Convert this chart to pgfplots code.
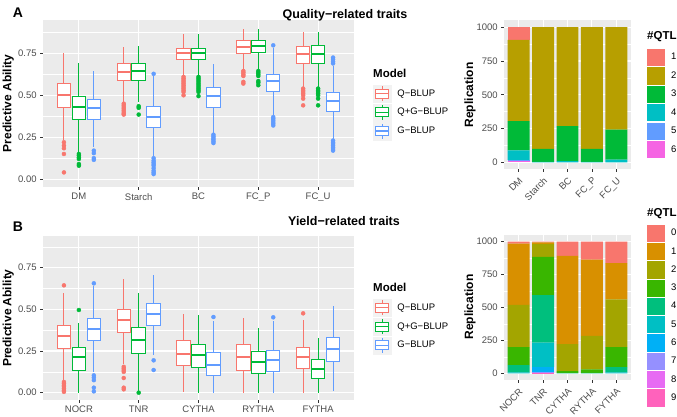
\documentclass[border=0pt]{standalone}
\usepackage{fontspec}
\setmainfont{Liberation Sans}
\usepackage{pgfplots}
\usepackage{pgfplotstable}
\pgfplotsset{compat=1.18}
\usepgfplotslibrary{statistics}

\definecolor{qcol}{HTML}{F8766D}
\definecolor{qgcol}{HTML}{00BA38}
\definecolor{gcol}{HTML}{619CFF}
\definecolor{bggray}{HTML}{EBEBEB}
\definecolor{keygray}{HTML}{F2F2F2}
\definecolor{tickgray}{HTML}{4D4D4D}
\definecolor{tickmark}{HTML}{333333}
\definecolor{a1}{HTML}{F8766D}
\definecolor{a2}{HTML}{B79F00}
\definecolor{a3}{HTML}{00BA38}
\definecolor{a4}{HTML}{00BFC4}
\definecolor{a5}{HTML}{619CFF}
\definecolor{a6}{HTML}{F564E3}
\definecolor{b0}{HTML}{F8766D}
\definecolor{b1}{HTML}{D89000}
\definecolor{b2}{HTML}{A3A500}
\definecolor{b3}{HTML}{39B600}
\definecolor{b4}{HTML}{00BF7D}
\definecolor{b5}{HTML}{00BFC4}
\definecolor{b6}{HTML}{00B0F6}
\definecolor{b7}{HTML}{9590FF}
\definecolor{b8}{HTML}{E76BF3}
\definecolor{b9}{HTML}{FF62BC}

% quality traits: rows DM(Q,Q+G,G), Starch, BC, FC_P, FC_U
\pgfplotstableread{
lw lq med uq uw
0.235 0.426 0.504 0.570 0.750
0.160 0.356 0.428 0.494 0.690
0.190 0.356 0.422 0.476 0.644
0.460 0.588 0.640 0.688 0.790
0.460 0.590 0.644 0.690 0.794
0.140 0.308 0.370 0.434 0.615
0.620 0.714 0.754 0.782 0.866
0.620 0.714 0.754 0.782 0.866
0.275 0.430 0.494 0.544 0.684
0.655 0.750 0.790 0.824 0.894
0.655 0.754 0.794 0.826 0.894
0.380 0.520 0.584 0.626 0.780
0.550 0.690 0.746 0.790 0.878
0.550 0.690 0.748 0.794 0.878
0.240 0.404 0.464 0.516 0.674
}\boxA

% yield traits: rows NOCR, TNR, CYTHA, RYTHA, FYTHA
\pgfplotstableread{
lw lq med uq uw
0.070 0.266 0.340 0.404 0.600
0.000 0.136 0.212 0.272 0.416
0.124 0.312 0.382 0.448 0.640
0.170 0.364 0.438 0.502 0.684
0.010 0.236 0.318 0.390 0.596
0.224 0.404 0.472 0.536 0.706
0.004 0.166 0.234 0.312 0.470
0.000 0.154 0.224 0.292 0.464
0.000 0.104 0.168 0.240 0.430
0.000 0.132 0.216 0.290 0.450
0.000 0.114 0.186 0.246 0.386
0.000 0.128 0.196 0.254 0.428
0.000 0.146 0.214 0.274 0.434
0.000 0.088 0.144 0.198 0.328
0.010 0.188 0.264 0.332 0.520
}\boxB

\newcommand{\bxt}[4]{%
  \pgfplotstablegetelem{#2}{lw}\of#1\edef\vlw{\pgfplotsretval}%
  \pgfplotstablegetelem{#2}{lq}\of#1\edef\vlq{\pgfplotsretval}%
  \pgfplotstablegetelem{#2}{med}\of#1\edef\vmed{\pgfplotsretval}%
  \pgfplotstablegetelem{#2}{uq}\of#1\edef\vuq{\pgfplotsretval}%
  \pgfplotstablegetelem{#2}{uw}\of#1\edef\vuw{\pgfplotsretval}%
  \edef\tmpbx{\noexpand\addplot[forget plot, draw=#4, line width=1pt,
    boxplot/draw direction=y,
    boxplot prepared={draw position=#3, lower whisker=\vlw, lower quartile=\vlq,
    median=\vmed, upper quartile=\vuq, upper whisker=\vuw}] coordinates {};}%
  \tmpbx}

\pgfplotsset{
 ggbase/.style={
   scale only axis,
   axis background/.style={fill=bggray},
   axis line style={draw=none},
   xmajorgrids=true, ymajorgrids=true, yminorgrids=true,
   major grid style={white, line width=1.1pt},
   minor grid style={white, line width=0.55pt},
   tick align=outside, tick pos=left,
   major tick length=2.8pt, minor tick length=0pt,
   tick style={draw=tickmark, line width=0.6pt},
   tick label style={font=\fontsize{9.5}{11}\selectfont, text=tickgray},
   xmin=0.4, xmax=5.6, xtick={1,2,3,4,5},
   legend cell align=left,
   legend style={draw=none, fill=none, inner sep=0pt, anchor=north west,
     nodes={inner sep=0pt, font=\fontsize{9.5}{11}\selectfont},
     row sep=1.15pt,
     /tikz/every odd column/.append style={column sep=6.5pt}},
 },
 boxax/.style={ggbase, width=311pt, ymin=-0.047, ymax=0.949,
   ytick={0,0.25,0.5,0.75}, yticklabels={0.00,0.25,0.50,0.75},
   minor ytick={0.125,0.375,0.625,0.875},
   boxplot/draw direction=y,
   boxplot/box extend=0.225, boxplot/whisker extend=0,
   boxplot/every box/.style={fill=white},
   boxplot/every median/.style={line width=1.9pt}},
 barax/.style={ggbase, width=127pt, ybar stacked, bar width=0.9,
   ymin=-50, ymax=1050, ytick={0,250,500,750,1000},
   yticklabels={0,250,500,750,1000},
   minor ytick={125,375,625,875},
   xticklabel style={rotate=45, anchor=north east}, reverse legend},
 boxkey/.style={legend image code/.code={
   \fill[keygray] (0pt,-8.65pt) rectangle (17.3pt,8.65pt);
   \draw[line width=0.9pt, fill=white] (2.2pt,-4.5pt) rectangle (15.1pt,4.5pt);
   \draw[line width=0.9pt] (8.65pt,4.5pt) -- (8.65pt,7.6pt) (8.65pt,-4.5pt) -- (8.65pt,-7.6pt);
   \draw[line width=1.6pt] (2.2pt,0pt) -- (15.1pt,0pt);}},
 barkey/.style={legend image code/.code={
   \fill (0pt,-8.65pt) rectangle (17.3pt,8.65pt);}},
 outl/.style={forget plot, only marks, mark=*, mark size=2pt, mark options={draw=none}},
}

\begin{document}
\begin{tikzpicture}
\path[use as bounding box] (0,0) rectangle (677pt,416pt);

% ---------------- A: quality traits boxplots
\begin{axis}[boxax, at={(43pt,229pt)}, anchor=south west, height=167pt,
  xticklabels={DM,Starch,BC,FC\_P,FC\_U},
  legend style={at={(1.0611,0.614)}}]
\bxt{\boxA}{0}{0.75}{qcol}
\bxt{\boxA}{1}{1.00}{qgcol}
\bxt{\boxA}{2}{1.25}{gcol}
\bxt{\boxA}{3}{1.75}{qcol}
\bxt{\boxA}{4}{2.00}{qgcol}
\bxt{\boxA}{5}{2.25}{gcol}
\bxt{\boxA}{6}{2.75}{qcol}
\bxt{\boxA}{7}{3.00}{qgcol}
\bxt{\boxA}{8}{3.25}{gcol}
\bxt{\boxA}{9}{3.75}{qcol}
\bxt{\boxA}{10}{4.00}{qgcol}
\bxt{\boxA}{11}{4.25}{gcol}
\bxt{\boxA}{12}{4.75}{qcol}
\bxt{\boxA}{13}{5.00}{qgcol}
\bxt{\boxA}{14}{5.25}{gcol}
\addplot[outl, qcol, mark options={fill=qcol}] coordinates {
(0.75,0.22)(0.75,0.20)(0.75,0.184)(0.75,0.15)(0.75,0.04)
(1.75,0.45)(1.75,0.44)(1.75,0.43)(1.75,0.42)(1.75,0.41)(1.75,0.40)(1.75,0.39)(1.75,0.385)
(2.75,0.61)(2.75,0.60)(2.75,0.59)(2.75,0.58)(2.75,0.57)(2.75,0.56)(2.75,0.55)(2.75,0.54)(2.75,0.53)(2.75,0.52)(2.75,0.50)
(3.75,0.645)(3.75,0.635)(3.75,0.625)(3.75,0.615)(3.75,0.58)(3.75,0.57)
(4.75,0.54)(4.75,0.53)(4.75,0.52)(4.75,0.51)(4.75,0.50)(4.75,0.48)(4.75,0.44)};
\addplot[outl, qgcol, mark options={fill=qgcol}] coordinates {
(1,0.15)(1,0.14)(1,0.13)(1,0.12)(1,0.09)(1,0.08)
(2,0.435)(2,0.425)(2,0.385)
(3,0.61)(3,0.60)(3,0.59)(3,0.58)(3,0.57)(3,0.56)(3,0.55)(3,0.54)(3,0.53)(3,0.52)(3,0.495)
(4,0.645)(4,0.635)(4,0.625)(4,0.615)(4,0.585)(4,0.575)(4,0.56)
(5,0.54)(5,0.53)(5,0.52)(5,0.51)(5,0.50)(5,0.48)(5,0.44)};
\addplot[outl, gcol, mark options={fill=gcol}] coordinates {
(1.25,0.17)(1.25,0.155)(1.25,0.125)(1.25,0.115)
(2.25,0.628)(2.25,0.125)(2.25,0.11)(2.25,0.10)(2.25,0.09)(2.25,0.08)(2.25,0.065)(2.25,0.05)(2.25,0.04)(2.25,0.03)
(3.25,0.265)(3.25,0.255)(3.25,0.245)(3.25,0.235)(3.25,0.225)(3.25,0.215)
(4.25,0.798)(4.25,0.37)(4.25,0.36)(4.25,0.35)(4.25,0.34)(4.25,0.33)(4.25,0.32)
(5.25,0.725)(5.25,0.715)(5.25,0.70)(5.25,0.69)(5.25,0.23)(5.25,0.22)(5.25,0.21)(5.25,0.20)(5.25,0.19)(5.25,0.18)(5.25,0.17)};
\addlegendimage{boxkey, draw=qcol}\addlegendentry{Q−BLUP}
\addlegendimage{boxkey, draw=qgcol}\addlegendentry{Q+G−BLUP}
\addlegendimage{boxkey, draw=gcol}\addlegendentry{G−BLUP}
\end{axis}

% ---------------- A: QTL bars
\begin{axis}[barax, at={(504pt,247pt)}, anchor=south west, height=148.5pt,
  xticklabels={DM,Starch,BC,FC\_P,FC\_U},
  legend style={at={(1.126,0.811)}}]
\addplot[fill=a6, draw=none, barkey] coordinates {(1,8) (2,0) (3,0) (4,0) (5,0)}; \addlegendentry{6}
\addplot[fill=a5, draw=none, barkey] coordinates {(1,10) (2,0) (3,0) (4,0) (5,0)}; \addlegendentry{5}
\addplot[fill=a4, draw=none, barkey] coordinates {(1,70) (2,3) (3,8) (4,2) (5,20)}; \addlegendentry{4}
\addplot[fill=a3, draw=none, barkey] coordinates {(1,216) (2,97) (3,260) (4,98) (5,222)}; \addlegendentry{3}
\addplot[fill=a2, draw=none, barkey] coordinates {(1,603) (2,900) (3,732) (4,900) (5,758)}; \addlegendentry{2}
\addplot[fill=a1, draw=none, barkey] coordinates {(1,93) (2,0) (3,0) (4,0) (5,0)}; \addlegendentry{1}
\end{axis}

% ---------------- B: yield traits boxplots
\begin{axis}[boxax, at={(43pt,16pt)}, anchor=south west, height=164pt,
  ymin=-0.044, ymax=0.94,
  xticklabels={NOCR,TNR,CYTHA,RYTHA,FYTHA},
  legend style={at={(1.0611,0.618)}}]
\bxt{\boxB}{0}{0.75}{qcol}
\bxt{\boxB}{1}{1.00}{qgcol}
\bxt{\boxB}{2}{1.25}{gcol}
\bxt{\boxB}{3}{1.75}{qcol}
\bxt{\boxB}{4}{2.00}{qgcol}
\bxt{\boxB}{5}{2.25}{gcol}
\bxt{\boxB}{6}{2.75}{qcol}
\bxt{\boxB}{7}{3.00}{qgcol}
\bxt{\boxB}{8}{3.25}{gcol}
\bxt{\boxB}{9}{3.75}{qcol}
\bxt{\boxB}{10}{4.00}{qgcol}
\bxt{\boxB}{11}{4.25}{gcol}
\bxt{\boxB}{12}{4.75}{qcol}
\bxt{\boxB}{13}{5.00}{qgcol}
\bxt{\boxB}{14}{5.25}{gcol}
\addplot[outl, qcol, mark options={fill=qcol}] coordinates {
(0.75,0.644)(0.75,0.064)(0.75,0.055)(0.75,0.045)(0.75,0.035)(0.75,0.025)(0.75,0.015)(0.75,0.005)
(1.75,0.155)(1.75,0.145)(1.75,0.135)(1.75,0.125)(1.75,0.088)(1.75,0.03)(1.75,0.02)
(4.75,0.476)};
\addplot[outl, qgcol, mark options={fill=qgcol}] coordinates {(1,0.496)(2,0.0)};
\addplot[outl, gcol, mark options={fill=gcol}] coordinates {
(1.25,0.656)(1.25,0.104)(1.25,0.09)(1.25,0.075)(1.25,0.03)(1.25,0.008)
(2.25,0.194)(2.25,0.136)(3.25,0.454)(4.25,0.452)};
\addlegendimage{boxkey, draw=qcol}\addlegendentry{Q−BLUP}
\addlegendimage{boxkey, draw=qgcol}\addlegendentry{Q+G−BLUP}
\addlegendimage{boxkey, draw=gcol}\addlegendentry{G−BLUP}
\end{axis}

% ---------------- B: QTL bars
\begin{axis}[barax, at={(504pt,36pt)}, anchor=south west, height=145pt,
  xticklabels={NOCR,TNR,CYTHA,RYTHA,FYTHA},
  legend style={at={(1.126,1.073)}, row sep=1.0pt}]
\addplot[fill=b9, draw=none, barkey] coordinates {(1,0) (2,2) (3,0) (4,0) (5,0)}; \addlegendentry{9}
\addplot[fill=b8, draw=none, barkey] coordinates {(1,0) (2,3) (3,0) (4,0) (5,0)}; \addlegendentry{8}
\addplot[fill=b7, draw=none, barkey] coordinates {(1,0) (2,5) (3,0) (4,0) (5,0)}; \addlegendentry{7}
\addplot[fill=b6, draw=none, barkey] coordinates {(1,0) (2,38) (3,0) (4,0) (5,0)}; \addlegendentry{6}
\addplot[fill=b5, draw=none, barkey] coordinates {(1,8) (2,186) (3,0) (4,0) (5,8)}; \addlegendentry{5}
\addplot[fill=b4, draw=none, barkey] coordinates {(1,55) (2,360) (3,5) (4,5) (5,40)}; \addlegendentry{4}
\addplot[fill=b3, draw=none, barkey] coordinates {(1,136) (2,290) (3,12) (4,25) (5,151)}; \addlegendentry{3}
\addplot[fill=b2, draw=none, barkey] coordinates {(1,320) (2,96) (3,205) (4,255) (5,363)}; \addlegendentry{2}
\addplot[fill=b1, draw=none, barkey] coordinates {(1,466) (2,15) (3,670) (4,579) (5,274)}; \addlegendentry{1}
\addplot[fill=b0, draw=none, barkey] coordinates {(1,15) (2,5) (3,108) (4,136) (5,164)}; \addlegendentry{0}
\end{axis}

% ---------------- texts
\node[font=\fontsize{14}{16}\selectfont\bfseries] at (18pt,403pt) {A};
\node[font=\fontsize{14}{16}\selectfont\bfseries] at (18pt,189pt) {B};
\node[font=\fontsize{12.5}{14}\selectfont\bfseries] at (345pt,401pt) {Quality−related traits};
\node[font=\fontsize{12.5}{14}\selectfont\bfseries] at (344pt,195pt) {Yield−related traits};
\node[rotate=90, font=\fontsize{12}{14}\selectfont\bfseries] at (8.3pt,312.5pt) {Predictive Ability};
\node[rotate=90, font=\fontsize{12}{14}\selectfont\bfseries] at (8.3pt,98pt) {Predictive Ability};
\node[rotate=90, font=\fontsize{12}{14}\selectfont\bfseries] at (470pt,321pt) {Replication};
\node[rotate=90, font=\fontsize{12}{14}\selectfont\bfseries] at (470pt,109pt) {Replication};
\node[anchor=west, inner sep=0pt, font=\fontsize{11.5}{13}\selectfont\bfseries] at (373pt,343pt) {Model};
\node[anchor=west, inner sep=0pt, font=\fontsize{11.5}{13}\selectfont\bfseries] at (373pt,128.7pt) {Model};
\node[anchor=west, inner sep=0pt, font=\fontsize{11.5}{13}\selectfont\bfseries] at (647pt,379pt) {\#QTL};
\node[anchor=west, inner sep=0pt, font=\fontsize{11.5}{13}\selectfont\bfseries] at (647pt,202pt) {\#QTL};
\end{tikzpicture}
\end{document}
